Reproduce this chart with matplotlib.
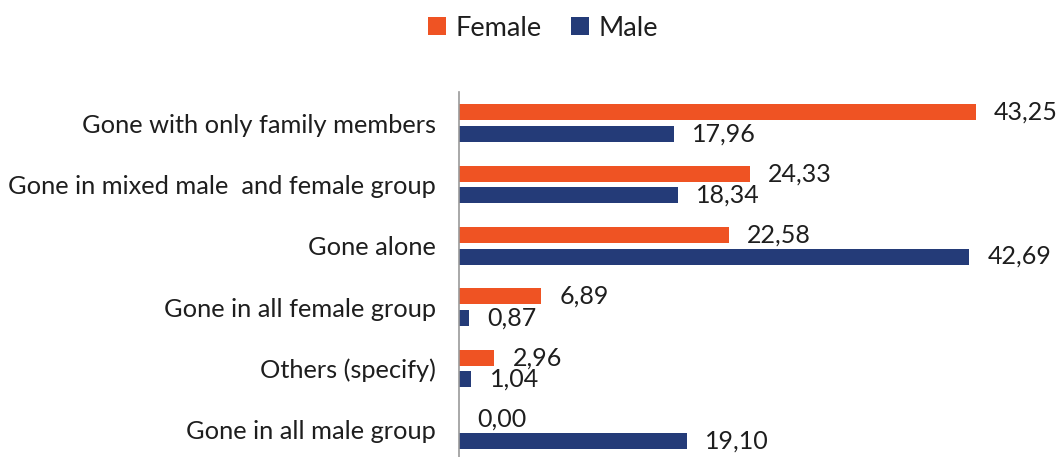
import matplotlib
matplotlib.use("Agg")
import matplotlib.pyplot as plt
import numpy as np

# data
categories = [
    "Gone with only family members",
    "Gone in mixed male  and female group",
    "Gone alone",
    "Gone in all female group",
    "Others (specify)",
    "Gone in all male group",
]
female = [43.25, 24.33, 22.58, 6.89, 2.96, 0.00]
male = [17.96, 18.34, 42.69, 0.87, 1.04, 19.10]

female_color = "#EF5323"
male_color = "#243B78"
text_color = "#1E1E1E"

plt.rcParams["font.family"] = ["Lato", "DejaVu Sans"]

W, H = 1059, 457
fig = plt.figure(figsize=(W / 100, H / 100), dpi=100)
ax = fig.add_axes([459 / W, 0, 1 - 459 / W, 1 - 92 / H])

y = np.arange(len(categories))
bh = 0.26
off = 0.175
bars_f = ax.barh(y - off, female, height=bh, color=female_color, label="Female")
bars_m = ax.barh(y + off, male, height=bh, color=male_color, label="Male")

for bars, vals in ((bars_f, female), (bars_m, male)):
    for b, v in zip(bars, vals):
        ax.annotate(f"{v:.2f}".replace(".", ","),
                    xy=(b.get_width(), b.get_y() + b.get_height() / 2),
                    xytext=(13, 0), textcoords="offset points",
                    ha="left", va="center", fontsize=18, color=text_color)

ax.set_xlim(0, 50.2)
ax.set_ylim(5.44, -0.505)
ax.set_yticks(y)
ax.set_yticklabels(categories, fontsize=18.3, color=text_color)
ax.tick_params(axis="y", length=0, pad=16.5)
ax.set_xticks([])
for s in ("top", "right", "bottom"):
    ax.spines[s].set_visible(False)
ax.spines["left"].set_color("#9A9A9A")
ax.spines["left"].set_linewidth(1.2)

fig.legend(loc="center", bbox_to_anchor=(543 / W, 1 - 28 / H), ncol=2,
           frameon=False, fontsize=19.5, handlelength=0.65, handleheight=0.65,
           handletextpad=0.35, columnspacing=1.1, labelcolor=text_color)

fig.savefig("out.png", dpi=100)
